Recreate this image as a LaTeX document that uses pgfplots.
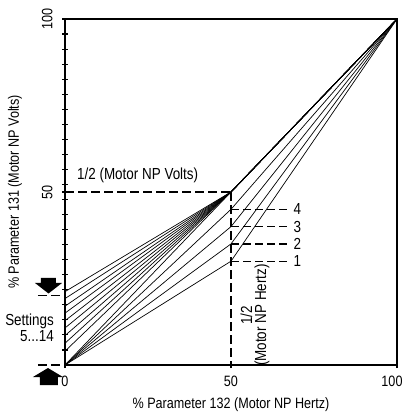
\documentclass[border=0pt]{standalone}
\usepackage{fontspec}
\setmainfont{Liberation Sans}[FakeStretch=0.84]
\usepackage{pgfplots}
\pgfplotsset{compat=1.18}
\begin{document}
\fontsize{16bp}{18bp}\selectfont
\begin{tikzpicture}
\path[use as bounding box] (-65bp,-55bp) rectangle (339bp,365bp);
\begin{axis}[
  at={(0,0)}, anchor=origin,
  scale only axis, width=332bp, height=346bp,
  xmin=0, xmax=100, ymin=0, ymax=100,
  xtick={0,50,100}, ytick={50,100},
  xticklabels={0,50,{\hspace*{-10bp}100}},
  minor ytick={4.3478,8.6957,13.0435,17.3913,21.7391,26.0870,30.4348,34.7826,39.1304,43.4783,47.8261,52.1739,56.5217,60.8696,65.2174,69.5652,73.9130,78.2609,82.6087,86.9565,91.3043,95.6522},
  xtick pos=lower, ytick pos=left,
  tick align=center, major tick length=6bp, minor tick length=6bp,
  every tick/.style={black, line width=1.1bp},
  axis line style={line width=1.2bp},
  /pgf/number format/assume math mode=true,
  tick label style={font=\fontsize{15bp}{17bp}\selectfont},
  yticklabel style={rotate=90, anchor=south, yshift=4bp},
  xticklabel style={yshift=-2bp},
  xlabel={\% Parameter 132 (Motor NP Hertz)},
  ylabel={\% Parameter 131 (Motor NP Volts)},
  xlabel style={at={(axis description cs:0.5,0)}, anchor=center, yshift=-40bp},
  ylabel style={at={(axis description cs:-0.1506,0.5)}, anchor=center},
  label style={font=\fontsize{15bp}{17bp}\selectfont},
  clip=false,
]
% Settings 1-4
\addplot[line width=0.7bp] coordinates {(0,0) (50,30) (100,100)};
\addplot[line width=0.7bp] coordinates {(0,0) (50,35) (100,100)};
\addplot[line width=0.7bp] coordinates {(0,0) (50,40) (100,100)};
\addplot[line width=0.7bp] coordinates {(0,0) (50,45) (100,100)};
% Settings 5-14
\addplot[line width=0.7bp] coordinates {(0,0) (50,50) (100,100)};
\addplot[line width=0.7bp] coordinates {(0,4.0) (50,50) (100,100)};
\addplot[line width=0.7bp] coordinates {(0,6.3) (50,50) (100,100)};
\addplot[line width=0.7bp] coordinates {(0,8.5) (50,50) (100,100)};
\addplot[line width=0.7bp] coordinates {(0,10.7) (50,50) (100,100)};
\addplot[line width=0.7bp] coordinates {(0,12.8) (50,50) (100,100)};
\addplot[line width=0.7bp] coordinates {(0,15.0) (50,50) (100,100)};
\addplot[line width=0.7bp] coordinates {(0,17.0) (50,50) (100,100)};
\addplot[line width=0.7bp] coordinates {(0,19.2) (50,50) (100,100)};
\addplot[line width=0.7bp] coordinates {(0,21.2) (50,50) (100,100)};
% guide lines
\draw[line width=1.4bp, dash pattern=on 9bp off 4bp] (axis cs:0,50) -- (axis cs:50,50);
\draw[line width=1.4bp, dash pattern=on 9bp off 4bp] (axis cs:50,50) -- (axis cs:50,0);
\draw[line width=1.4bp, dash pattern=on 8bp off 4bp] (axis cs:50,30) -- (axis cs:68,30);
\draw[line width=1.4bp, dash pattern=on 8bp off 4bp] (axis cs:50,35) -- (axis cs:68,35);
\draw[line width=1.4bp, dash pattern=on 8bp off 4bp] (axis cs:50,40) -- (axis cs:68,40);
\draw[line width=1.4bp, dash pattern=on 8bp off 4bp] (axis cs:50,45) -- (axis cs:68,45);
\node[anchor=west, inner sep=0pt] at (axis cs:68.8,30) {1};
\node[anchor=west, inner sep=0pt] at (axis cs:68.8,35) {2};
\node[anchor=west, inner sep=0pt] at (axis cs:68.8,40) {3};
\node[anchor=west, inner sep=0pt] at (axis cs:68.8,45) {4};
\node[anchor=west, inner sep=0pt] at (axis cs:3.6,54.9) {1/2 (Motor NP Volts)};
\node[rotate=90, align=center, inner sep=0pt, font=\fontsize{16bp}{14bp}\selectfont] at (axis cs:57.2,14.4) {1/2\\(Motor NP Hertz)};
\node[anchor=east, align=right, inner sep=0pt, font=\fontsize{16bp}{16.5bp}\selectfont] at (axis cs:-3.3,10.8) {Settings\\5...14};
\end{axis}
% arrows and markers left of the axis
\draw[line width=1.4bp, dash pattern=on 9bp off 4bp] (-27bp,0bp) -- (-3bp,0bp);
\draw[line width=1.4bp, dash pattern=on 9bp off 4bp] (-27bp,69.3bp) -- (-3bp,69.3bp);
\fill (-24bp,87bp) -- (-9bp,87bp) -- (-9bp,82bp) -- (-3bp,82bp) -- (-16.5bp,71.5bp) -- (-30bp,82bp) -- (-24bp,82bp) -- cycle;
\fill (-17bp,-3bp) -- (-2bp,-12bp) -- (-7bp,-12bp) -- (-7bp,-20bp) -- (-25bp,-20bp) -- (-25bp,-12bp) -- (-32bp,-12bp) -- cycle;
\end{tikzpicture}
\end{document}
